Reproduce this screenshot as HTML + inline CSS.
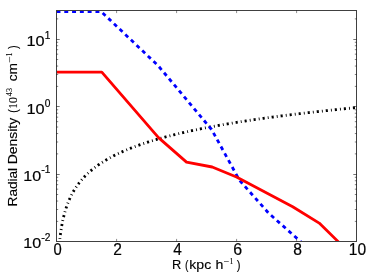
<!DOCTYPE html>
<html><head><meta charset="utf-8"><title>plot</title>
<style>
html,body{margin:0;padding:0;background:#fff;}
body{width:374px;height:280px;overflow:hidden;}
svg{display:block;}
text{font-family:"Liberation Sans",sans-serif;fill:#000;stroke:#000;stroke-width:0.2px;}
.lab{stroke-width:0.15px;}
.ser{font-family:"Liberation Serif",serif;stroke-width:0.12px;}
</style></head><body>
<svg width="374" height="280" viewBox="0 0 374 280">
<rect x="0" y="0" width="374" height="280" fill="#fff"/>
<defs><clipPath id="c"><rect x="56" y="10" width="301" height="232"/></clipPath></defs>

<g clip-path="url(#c)" fill="none" stroke-linejoin="round">
<polyline points="59.41,243.05 60.15,236.39 60.90,230.96 61.64,226.39 62.38,222.43 63.12,218.94 63.87,215.83 64.61,213.01 65.35,210.45 66.09,208.09 66.84,205.90 67.58,203.87 68.32,201.97 69.07,200.18 69.81,198.50 70.55,196.91 71.29,195.40 72.04,193.96 72.78,192.60 73.52,191.29 74.26,190.04 75.01,188.84 75.75,187.69 76.49,186.58 77.24,185.51 77.98,184.48 78.72,183.48 79.46,182.52 80.21,181.59 80.95,180.69 81.69,179.81 82.43,178.96 83.18,178.13 83.92,177.33 84.66,176.55 85.41,175.78 86.15,175.04 86.89,174.32 87.63,173.61 88.38,172.92 89.12,172.25 89.86,171.59 90.60,170.94 91.35,170.31 92.09,169.70 92.83,169.09 93.58,168.50 94.32,167.92 95.06,167.35 95.80,166.79 96.55,166.24 97.29,165.71 98.03,165.18 98.77,164.66 99.52,164.15 100.26,163.65 101.00,163.16 101.75,162.67 102.49,162.20 103.23,161.73 103.97,161.27 104.72,160.81 105.46,160.37 106.20,159.93 106.94,159.49 107.69,159.06 108.43,158.64 109.17,158.23 109.92,157.82 110.66,157.42 111.40,157.02 112.14,156.62 112.89,156.24 113.63,155.85 114.37,155.48 115.11,155.10 115.86,154.74 116.60,154.37 117.34,154.01 118.09,153.66 118.83,153.31 119.57,152.96 120.31,152.62 121.06,152.28 121.80,151.95 122.54,151.62 123.28,151.29 124.03,150.97 124.77,150.65 125.51,150.33 126.26,150.02 127.00,149.71 127.74,149.40 128.48,149.10 129.23,148.80 129.97,148.50 130.71,148.21 131.45,147.92 132.20,147.63 132.94,147.35 133.68,147.06 134.43,146.78 135.17,146.51 135.91,146.23 136.65,145.96 137.40,145.69 138.14,145.42 138.88,145.16 139.62,144.90 140.37,144.64 141.11,144.38 141.85,144.13 142.60,143.87 143.34,143.62 144.08,143.37 144.82,143.13 145.57,142.88 146.31,142.64 147.05,142.40 147.79,142.16 148.54,141.93 149.28,141.69 150.02,141.46 150.77,141.23 151.51,141.00 152.25,140.77 152.99,140.55 153.74,140.32 154.48,140.10 155.22,139.88 155.96,139.66 156.71,139.44 157.45,139.23 158.19,139.02 158.94,138.80 159.68,138.59 160.42,138.38 161.16,138.18 161.91,137.97 162.65,137.76 163.39,137.56 164.13,137.36 164.88,137.16 165.62,136.96 166.36,136.76 167.11,136.57 167.85,136.37 168.59,136.18 169.33,135.98 170.08,135.79 170.82,135.60 171.56,135.41 172.30,135.23 173.05,135.04 173.79,134.86 174.53,134.67 175.28,134.49 176.02,134.31 176.76,134.13 177.50,133.95 178.25,133.77 178.99,133.59 179.73,133.42 180.47,133.24 181.22,133.07 181.96,132.89 182.70,132.72 183.45,132.55 184.19,132.38 184.93,132.21 185.67,132.04 186.42,131.88 187.16,131.71 187.90,131.55 188.64,131.38 189.39,131.22 190.13,131.06 190.87,130.89 191.62,130.73 192.36,130.57 193.10,130.42 193.84,130.26 194.59,130.10 195.33,129.94 196.07,129.79 196.81,129.63 197.56,129.48 198.30,129.33 199.04,129.18 199.79,129.03 200.53,128.87 201.27,128.72 202.01,128.58 202.76,128.43 203.50,128.28 204.24,128.13 204.98,127.99 205.73,127.84 206.47,127.70 207.21,127.55 207.96,127.41 208.70,127.27 209.44,127.13 210.18,126.99 210.93,126.85 211.67,126.71 212.41,126.57 213.15,126.43 213.90,126.29 214.64,126.16 215.38,126.02 216.12,125.88 216.87,125.75 217.61,125.61 218.35,125.48 219.10,125.35 219.84,125.21 220.58,125.08 221.32,124.95 222.07,124.82 222.81,124.69 223.55,124.56 224.29,124.43 225.04,124.30 225.78,124.18 226.52,124.05 227.27,123.92 228.01,123.80 228.75,123.67 229.49,123.55 230.24,123.42 230.98,123.30 231.72,123.17 232.46,123.05 233.21,122.93 233.95,122.81 234.69,122.69 235.44,122.56 236.18,122.44 236.92,122.32 237.66,122.20 238.41,122.09 239.15,121.97 239.89,121.85 240.63,121.73 241.38,121.62 242.12,121.50 242.86,121.38 243.61,121.27 244.35,121.15 245.09,121.04 245.83,120.92 246.58,120.81 247.32,120.70 248.06,120.58 248.80,120.47 249.55,120.36 250.29,120.25 251.03,120.14 251.78,120.03 252.52,119.92 253.26,119.81 254.00,119.70 254.75,119.59 255.49,119.48 256.23,119.37 256.97,119.26 257.72,119.16 258.46,119.05 259.20,118.94 259.95,118.84 260.69,118.73 261.43,118.63 262.17,118.52 262.92,118.42 263.66,118.31 264.40,118.21 265.14,118.11 265.89,118.00 266.63,117.90 267.37,117.80 268.12,117.70 268.86,117.59 269.60,117.49 270.34,117.39 271.09,117.29 271.83,117.19 272.57,117.09 273.31,116.99 274.06,116.89 274.80,116.79 275.54,116.69 276.29,116.60 277.03,116.50 277.77,116.40 278.51,116.30 279.26,116.21 280.00,116.11 280.74,116.01 281.48,115.92 282.23,115.82 282.97,115.73 283.71,115.63 284.46,115.54 285.20,115.44 285.94,115.35 286.68,115.26 287.43,115.16 288.17,115.07 288.91,114.98 289.65,114.89 290.40,114.79 291.14,114.70 291.88,114.61 292.63,114.52 293.37,114.43 294.11,114.34 294.85,114.25 295.60,114.16 296.34,114.07 297.08,113.98 297.82,113.89 298.57,113.80 299.31,113.71 300.05,113.62 300.80,113.53 301.54,113.45 302.28,113.36 303.02,113.27 303.77,113.18 304.51,113.10 305.25,113.01 305.99,112.92 306.74,112.84 307.48,112.75 308.22,112.67 308.97,112.58 309.71,112.50 310.45,112.41 311.19,112.33 311.94,112.24 312.68,112.16 313.42,112.08 314.16,111.99 314.91,111.91 315.65,111.83 316.39,111.74 317.14,111.66 317.88,111.58 318.62,111.50 319.36,111.41 320.11,111.33 320.85,111.25 321.59,111.17 322.33,111.09 323.08,111.01 323.82,110.93 324.56,110.85 325.31,110.77 326.05,110.69 326.79,110.61 327.53,110.53 328.28,110.45 329.02,110.37 329.76,110.29 330.50,110.21 331.25,110.14 331.99,110.06 332.73,109.98 333.48,109.90 334.22,109.82 334.96,109.75 335.70,109.67 336.45,109.59 337.19,109.52 337.93,109.44 338.67,109.36 339.42,109.29 340.16,109.21 340.90,109.14 341.65,109.06 342.39,108.99 343.13,108.91 343.87,108.84 344.62,108.76 345.36,108.69 346.10,108.61 346.84,108.54 347.59,108.47 348.33,108.39 349.07,108.32 349.82,108.25 350.56,108.17 351.30,108.10 352.04,108.03 352.79,107.95 353.53,107.88 354.27,107.81 355.01,107.74 355.76,107.67 356.50,107.60" stroke="#000" stroke-width="2.8" stroke-dasharray="2.1 3.09 0.9 3.0" stroke-dashoffset="1.05"/>
<polyline points="56.50,11.60 101.20,11.60 158.00,65.50 211.60,129.50 239.50,180.30 268.50,213.00 300.60,241.60 304.00,244.60" stroke="#0000ff" stroke-width="2.8" stroke-dasharray="3.95 3.84"/>
<polyline points="56.50,72.10 101.80,72.10 158.50,137.60 186.50,162.10 212.20,167.00 236.50,177.00 292.70,206.70 319.20,223.10 339.00,242.40" stroke="#ff0000" stroke-width="2.8"/>
</g>
<rect x="56.5" y="10.5" width="300.0" height="231.0" fill="none" stroke="#404040" stroke-width="1"/>
<path d="M56.5,174.50h3.2M356.5,174.50h-3.2M56.5,106.50h3.2M356.5,106.50h-3.2M56.5,39.50h3.2M356.5,39.50h-3.2" stroke="#000" stroke-width="0.55" fill="none"/>
<path d="M116.6,241.5v-2.6M116.6,10.5v2.6M176.6,241.5v-2.6M176.6,10.5v2.6M236.6,241.5v-2.6M236.6,10.5v2.6M296.6,241.5v-2.6M296.6,10.5v2.6" stroke="#000" stroke-width="0.45" fill="none"/>
<path d="M56.5,221.38h1.7M356.5,221.38h-1.7M56.5,209.49h1.7M356.5,209.49h-1.7M56.5,201.06h1.7M356.5,201.06h-1.7M56.5,194.52h1.7M356.5,194.52h-1.7M56.5,189.17h1.7M356.5,189.17h-1.7M56.5,184.66h1.7M356.5,184.66h-1.7M56.5,180.74h1.7M356.5,180.74h-1.7M56.5,177.29h1.7M356.5,177.29h-1.7M56.5,153.88h1.7M356.5,153.88h-1.7M56.5,141.99h1.7M356.5,141.99h-1.7M56.5,133.56h1.7M356.5,133.56h-1.7M56.5,127.02h1.7M356.5,127.02h-1.7M56.5,121.67h1.7M356.5,121.67h-1.7M56.5,117.16h1.7M356.5,117.16h-1.7M56.5,113.24h1.7M356.5,113.24h-1.7M56.5,109.79h1.7M356.5,109.79h-1.7M56.5,86.38h1.7M356.5,86.38h-1.7M56.5,74.49h1.7M356.5,74.49h-1.7M56.5,66.06h1.7M356.5,66.06h-1.7M56.5,59.52h1.7M356.5,59.52h-1.7M56.5,54.17h1.7M356.5,54.17h-1.7M56.5,49.66h1.7M356.5,49.66h-1.7M56.5,45.74h1.7M356.5,45.74h-1.7M56.5,42.29h1.7M356.5,42.29h-1.7M56.5,18.88h1.7M356.5,18.88h-1.7" stroke="#000" stroke-width="0.5" fill="none"/>
<g opacity="0.999">
<text font-size="15.6" transform="translate(53.41 254.75) scale(0.947 1)">0</text>
<text font-size="15.6" transform="translate(113.35 254.75) scale(0.996 1)">2</text>
<text font-size="15.6" transform="translate(173.33 254.75) scale(0.990 1)">4</text>
<text font-size="15.6" transform="translate(233.13 254.75) scale(1.021 1)">6</text>
<text font-size="15.6" transform="translate(293.27 254.75) scale(1.003 1)">8</text>
<text font-size="15.6" transform="translate(348.78 254.75) scale(0.998 1)">10</text>
<text font-size="15.2" transform="translate(26.49 46.30) scale(1.074 1)">10</text>
<text font-size="10.5" transform="translate(44.78 38.90) scale(0.962 1)">1</text>
<text font-size="15.2" transform="translate(26.49 113.50) scale(1.074 1)">10</text>
<text font-size="10.5" transform="translate(44.74 106.90) scale(0.970 1)">0</text>
<text font-size="15.2" transform="translate(23.31 180.90) scale(1.058 1)">10</text>
<text font-size="10.5" transform="translate(41.23 173.20) scale(1.040 1)">-</text>
<text font-size="10.5" transform="translate(44.78 173.20) scale(0.962 1)">1</text>
<text font-size="15.2" transform="translate(23.31 247.95) scale(1.058 1)">10</text>
<text font-size="10.5" transform="translate(41.23 240.75) scale(1.040 1)">-</text>
<text font-size="10.5" transform="translate(44.86 240.75) scale(0.974 1)">2</text>
<text class="lab" font-size="13.1" transform="translate(171.88 269.20) scale(0.981 1)">R</text>
<text class="lab" font-size="13.1" transform="translate(185.00 269.20) scale(0.800 1)">(</text>
<text class="lab" font-size="13.1" transform="translate(189.33 269.20) scale(1.076 1)">kpc</text>
<text class="lab" font-size="13.1" transform="translate(215.50 269.20) scale(1.081 1)">h</text>
<text class="ser" font-size="8.4" transform="translate(229.50 264.00) scale(0.933 1)">1</text>
<text class="lab" font-size="13.1" transform="translate(236.69 269.20) scale(0.859 1)">)</text>
<path d="M224.0,261.5H228.8" stroke="#000" stroke-width="0.55" fill="none"/>
<g transform="translate(17.25 206.0) rotate(-90)">
<text class="lab" font-size="13.1" transform="translate(-0.40 0.00) scale(1.038 1)">Radial</text>
<text class="lab" font-size="13.1" transform="translate(41.64 0.00) scale(1.067 1)">Density</text>
<text class="lab" font-size="13.1" transform="translate(93.25 0.00) scale(0.800 1)">(</text>
<text class="ser" font-size="13.1" transform="translate(97.70 0.00) scale(0.714 1)">1</text>
<text class="ser" font-size="13.1" transform="translate(102.67 0.00) scale(0.955 1)">0</text>
<text class="ser" font-size="8.8" transform="translate(109.78 -5.50) scale(0.931 1)">43</text>
<text class="lab" font-size="13.1" transform="translate(124.63 0.00) scale(1.039 1)">cm</text>
<text class="ser" font-size="8.4" transform="translate(149.60 -5.30) scale(0.933 1)">1</text>
<text class="lab" font-size="13.1" transform="translate(157.10 0.00) scale(0.830 1)">)</text>
<path d="M143.60,-7.7H149.20" stroke="#000" stroke-width="0.55" fill="none"/>
</g>
</g>
</svg></body></html>
